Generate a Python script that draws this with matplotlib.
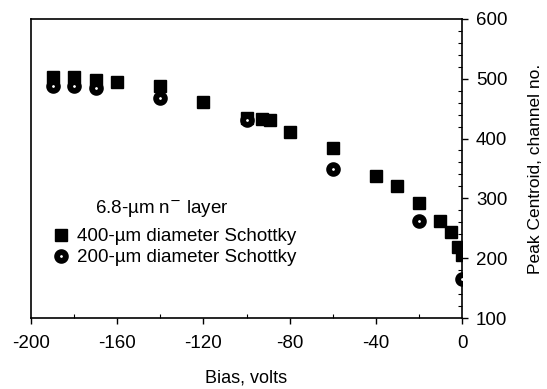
import matplotlib
matplotlib.use("Agg")
import matplotlib.pyplot as plt
from matplotlib.ticker import MultipleLocator

plt.rcParams['font.family'] = ['Liberation Sans', 'DejaVu Sans']
plt.rcParams['axes.unicode_minus'] = False

# 400-um diameter Schottky
bias_400 = [-190, -180, -170, -160, -140, -120, -100, -93, -89, -80,
            -60, -40, -30, -20, -10, -5, -2, 0]
peak_400 = [502, 502, 498, 495, 487, 461, 434, 432, 431, 411,
            384, 337, 321, 292, 262, 244, 219, 205]

# 200-um diameter Schottky
bias_200 = [-190, -180, -170, -140, -100, -60, -20, 0]
peak_200 = [487, 487, 485, 467, 431, 349, 262, 165]

fig = plt.figure(figsize=(5.47, 3.89), dpi=100)
ax = fig.add_axes([0.0567, 0.1825, 0.788, 0.769])

ax.plot(bias_400, peak_400, 's', color='black', markersize=8.5,
        label='400-\u00b5m diameter Schottky', zorder=3)
ax.plot(bias_200, peak_200, 'o', markerfacecolor='white', markeredgecolor='black',
        markeredgewidth=4.2, markersize=6.3,
        label='200-\u00b5m diameter Schottky', zorder=4)

ax.set_xlim(-200, 0)
ax.set_ylim(100, 600)
ax.xaxis.set_major_locator(MultipleLocator(40))
ax.xaxis.set_minor_locator(MultipleLocator(20))
ax.yaxis.set_major_locator(MultipleLocator(100))
ax.yaxis.set_minor_locator(MultipleLocator(20))

ax.yaxis.tick_right()
ax.yaxis.set_label_position('right')
ax.tick_params(which='major', direction='out', length=4, width=1,
               labelsize=13.5, colors='black')
ax.tick_params(which='minor', direction='in', length=3, width=0.8)
ax.tick_params(axis='y', which='both', left=False)
ax.tick_params(axis='x', pad=8)
ax.tick_params(axis='y', pad=6)

for s in ax.spines.values():
    s.set_linewidth(1.2)

ax.set_xlabel('Bias, volts', fontsize=13, labelpad=13)
ax.set_ylabel('Peak Centroid, channel no.', fontsize=12.5, labelpad=15)

ax.text(0.148, 0.365, '6.8-\u00b5m n$^{-}$ layer', transform=ax.transAxes,
        fontsize=13.5, va='center', ha='left')
ax.legend(loc='upper left', bbox_to_anchor=(0.048, 0.30), frameon=False,
          fontsize=13.5, handletextpad=0.35, borderpad=0, borderaxespad=0,
          labelspacing=0.2, handlelength=1.0)

fig.savefig('out.png', dpi=100)
